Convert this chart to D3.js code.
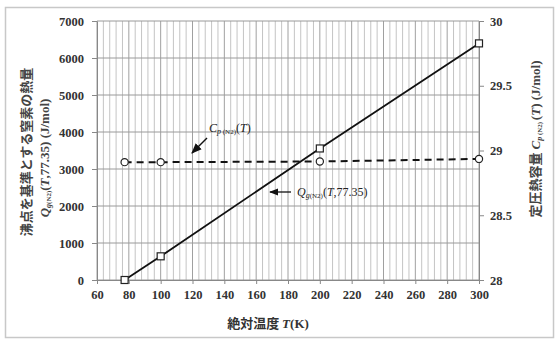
<!DOCTYPE html>
<html><head><meta charset="utf-8">
<script src="https://cdn.jsdelivr.net/npm/d3@7"></script>
<style>body{margin:0;background:#fff}svg{display:block}</style>
</head><body><svg id="c" width="555" height="340"></svg>
<script>
const temps = [77.35, 100, 200, 300];
const qValues = [0, 640, 3555, 6395];
const cpValues = [28.91, 28.91, 28.915, 28.935];
const xTicks = [60,80,100,120,140,160,180,200,220,240,260,280,300];
const yLeftTicks = [0,1000,2000,3000,4000,5000,6000,7000];
const yRightTicks = [28,28.5,29,29.5,30];

const svg = d3.select("#c");
const x = d3.scaleLinear().domain([60,300]).range([97,479]);
const yL = d3.scaleLinear().domain([0,7000]).range([280,21]);
const yR = d3.scaleLinear().domain([28,30]).range([280,21]);
const serif = "'Liberation Serif','DejaVu Serif',serif";
const jp = "'Noto Sans CJK JP',sans-serif";

svg.append("rect").attr("x",5.5).attr("y",7.5).attr("width",548).attr("height",330)
  .attr("fill","none").attr("stroke","#c8c8c8").attr("stroke-width",1.5);

// minor vertical grid
const minor = d3.range(64,300,4).filter(v=>v%20!==0);
svg.append("g").selectAll("line").data(minor).join("line")
  .attr("x1",d=>x(d)).attr("x2",d=>x(d)).attr("y1",yL(7000)).attr("y2",yL(0))
  .attr("stroke","#c4c4c4").attr("stroke-width",1);
svg.append("g").selectAll("line").data(xTicks).join("line")
  .attr("x1",d=>x(d)).attr("x2",d=>x(d)).attr("y1",yL(7000)).attr("y2",yL(0))
  .attr("stroke","#a0a0a0").attr("stroke-width",1);
svg.append("g").selectAll("line").data(yLeftTicks).join("line")
  .attr("x1",x(60)).attr("x2",x(300)).attr("y1",d=>yL(d)).attr("y2",d=>yL(d))
  .attr("stroke","#9a9a9a").attr("stroke-width",1);

// axes
const axStyle = g=>{g.select(".domain").attr("stroke","#888");g.selectAll(".tick line").attr("stroke","#888");
  g.selectAll("text").attr("font-family",serif).attr("font-size",12.5).attr("font-weight","bold").attr("fill","#333");};
svg.append("g").attr("transform","translate(0,280)")
  .call(d3.axisBottom(x).tickValues(xTicks).tickFormat(d3.format("d")).tickSize(4).tickSizeOuter(0).tickPadding(6)).call(axStyle);
svg.append("g").attr("transform","translate(97,0)")
  .call(d3.axisLeft(yL).tickValues(yLeftTicks).tickFormat(d3.format("d")).tickSize(5).tickSizeOuter(0).tickPadding(8)).call(axStyle);
svg.append("g").attr("transform","translate(479,0)")
  .call(d3.axisRight(yR).tickValues(yRightTicks).tickFormat(d3.format("")).tickSize(5).tickSizeOuter(0).tickPadding(6)).call(axStyle);

// lines
const qData = temps.map((t,i)=>[t,qValues[i]]);
const cpData = temps.map((t,i)=>[t,cpValues[i]]);
svg.append("path").datum(qData).attr("fill","none").attr("stroke","#111").attr("stroke-width",1.8)
  .attr("d",d3.line().x(d=>x(d[0])).y(d=>yL(d[1])));
svg.append("path").datum(cpData).attr("fill","none").attr("stroke","#111").attr("stroke-width",2)
  .attr("stroke-dasharray","7,5")
  .attr("d",d3.line().x(d=>x(d[0])).y(d=>yR(d[1])));
svg.append("g").selectAll("rect").data(qData).join("rect")
  .attr("x",d=>x(d[0])-3.5).attr("y",d=>yL(d[1])-3.5).attr("width",7).attr("height",7)
  .attr("fill","#fff").attr("stroke","#222").attr("stroke-width",1.2);
svg.append("g").selectAll("circle").data(cpData).join("circle")
  .attr("cx",d=>x(d[0])).attr("cy",d=>yR(d[1])).attr("r",3.6)
  .attr("fill","#fff").attr("stroke","#222").attr("stroke-width",1.2);

// annotations
svg.append("defs").append("marker").attr("id","ah").attr("viewBox","0 0 10 10").attr("refX",9).attr("refY",5)
  .attr("markerWidth",7).attr("markerHeight",7).attr("orient","auto-start-reverse")
  .append("path").attr("d","M0,1 L10,5 L0,9 Z").attr("fill","#111");
svg.append("line").attr("x1",207).attr("y1",138).attr("x2",192).attr("y2",153)
  .attr("stroke","#111").attr("stroke-width",1.5).attr("marker-end","url(#ah)");
svg.append("line").attr("x1",291).attr("y1",192).attr("x2",270).attr("y2",192)
  .attr("stroke","#111").attr("stroke-width",1.3).attr("marker-end","url(#ah)");

function sub(t, parts){
  parts.forEach(p=>{
    const s=t.append("tspan").text(p[0]);
    if(p[1]) s.attr("font-style","italic");
    if(p[2]) s.attr("font-size",p[2]).attr("baseline-shift",p[3]||"-20%");
  });
}
const cpLab = svg.append("text").attr("x",209).attr("y",132).attr("font-family",serif).attr("font-size",12).attr("fill","#222");
sub(cpLab,[["C",true],["p",true,8,"-25%"],[" (N2)",false,7,"-25%"],["(",false],["T",true],[")",false]]);
const qLab = svg.append("text").attr("x",297).attr("y",196).attr("font-family",serif).attr("font-size",12).attr("fill","#222");
sub(qLab,[["Q",true],["g",true,8,"-25%"],["(N2)",false,7,"-25%"],["(",false],["T",true],[",77.35)",false]]);

// axis titles
svg.append("text").attr("transform","translate(31,152) rotate(-90)").attr("text-anchor","middle")
  .attr("font-family",jp).attr("font-size",13).attr("font-weight","bold").attr("fill","#444")
  .text("沸点を基準とする窒素の熱量");
const lt2 = svg.append("text").attr("transform","translate(49,158) rotate(-90)").attr("text-anchor","middle")
  .attr("font-family",serif).attr("font-size",13).attr("font-weight","bold").attr("fill","#444");
sub(lt2,[["Q",true],["g",true,8,"-25%"],["(N2)",false,7,"-25%"],["(",false],["T",true],[",77.35) (J/mol)",false]]);

const rt = svg.append("text").attr("transform","translate(540,139) rotate(-90)").attr("text-anchor","middle")
  .attr("font-family",serif).attr("font-size",13).attr("font-weight","bold").attr("fill","#444");
rt.append("tspan").attr("font-family",jp).text("定圧熱容量  ");
sub(rt,[["C",true],["p",true,8,"-25%"],[" (N2) ",false,7,"-25%"],["(",false],["T",true],[") (J/mol)",false]]);

const xt = svg.append("text").attr("x",268).attr("y",328).attr("text-anchor","middle")
  .attr("font-family",jp).attr("font-size",13).attr("font-weight","bold").attr("fill","#333");
xt.append("tspan").text("絶対温度  ");
xt.append("tspan").attr("font-family",serif).attr("font-style","italic").text("T");
xt.append("tspan").attr("font-family",serif).text("(K)");
</script></body></html>
